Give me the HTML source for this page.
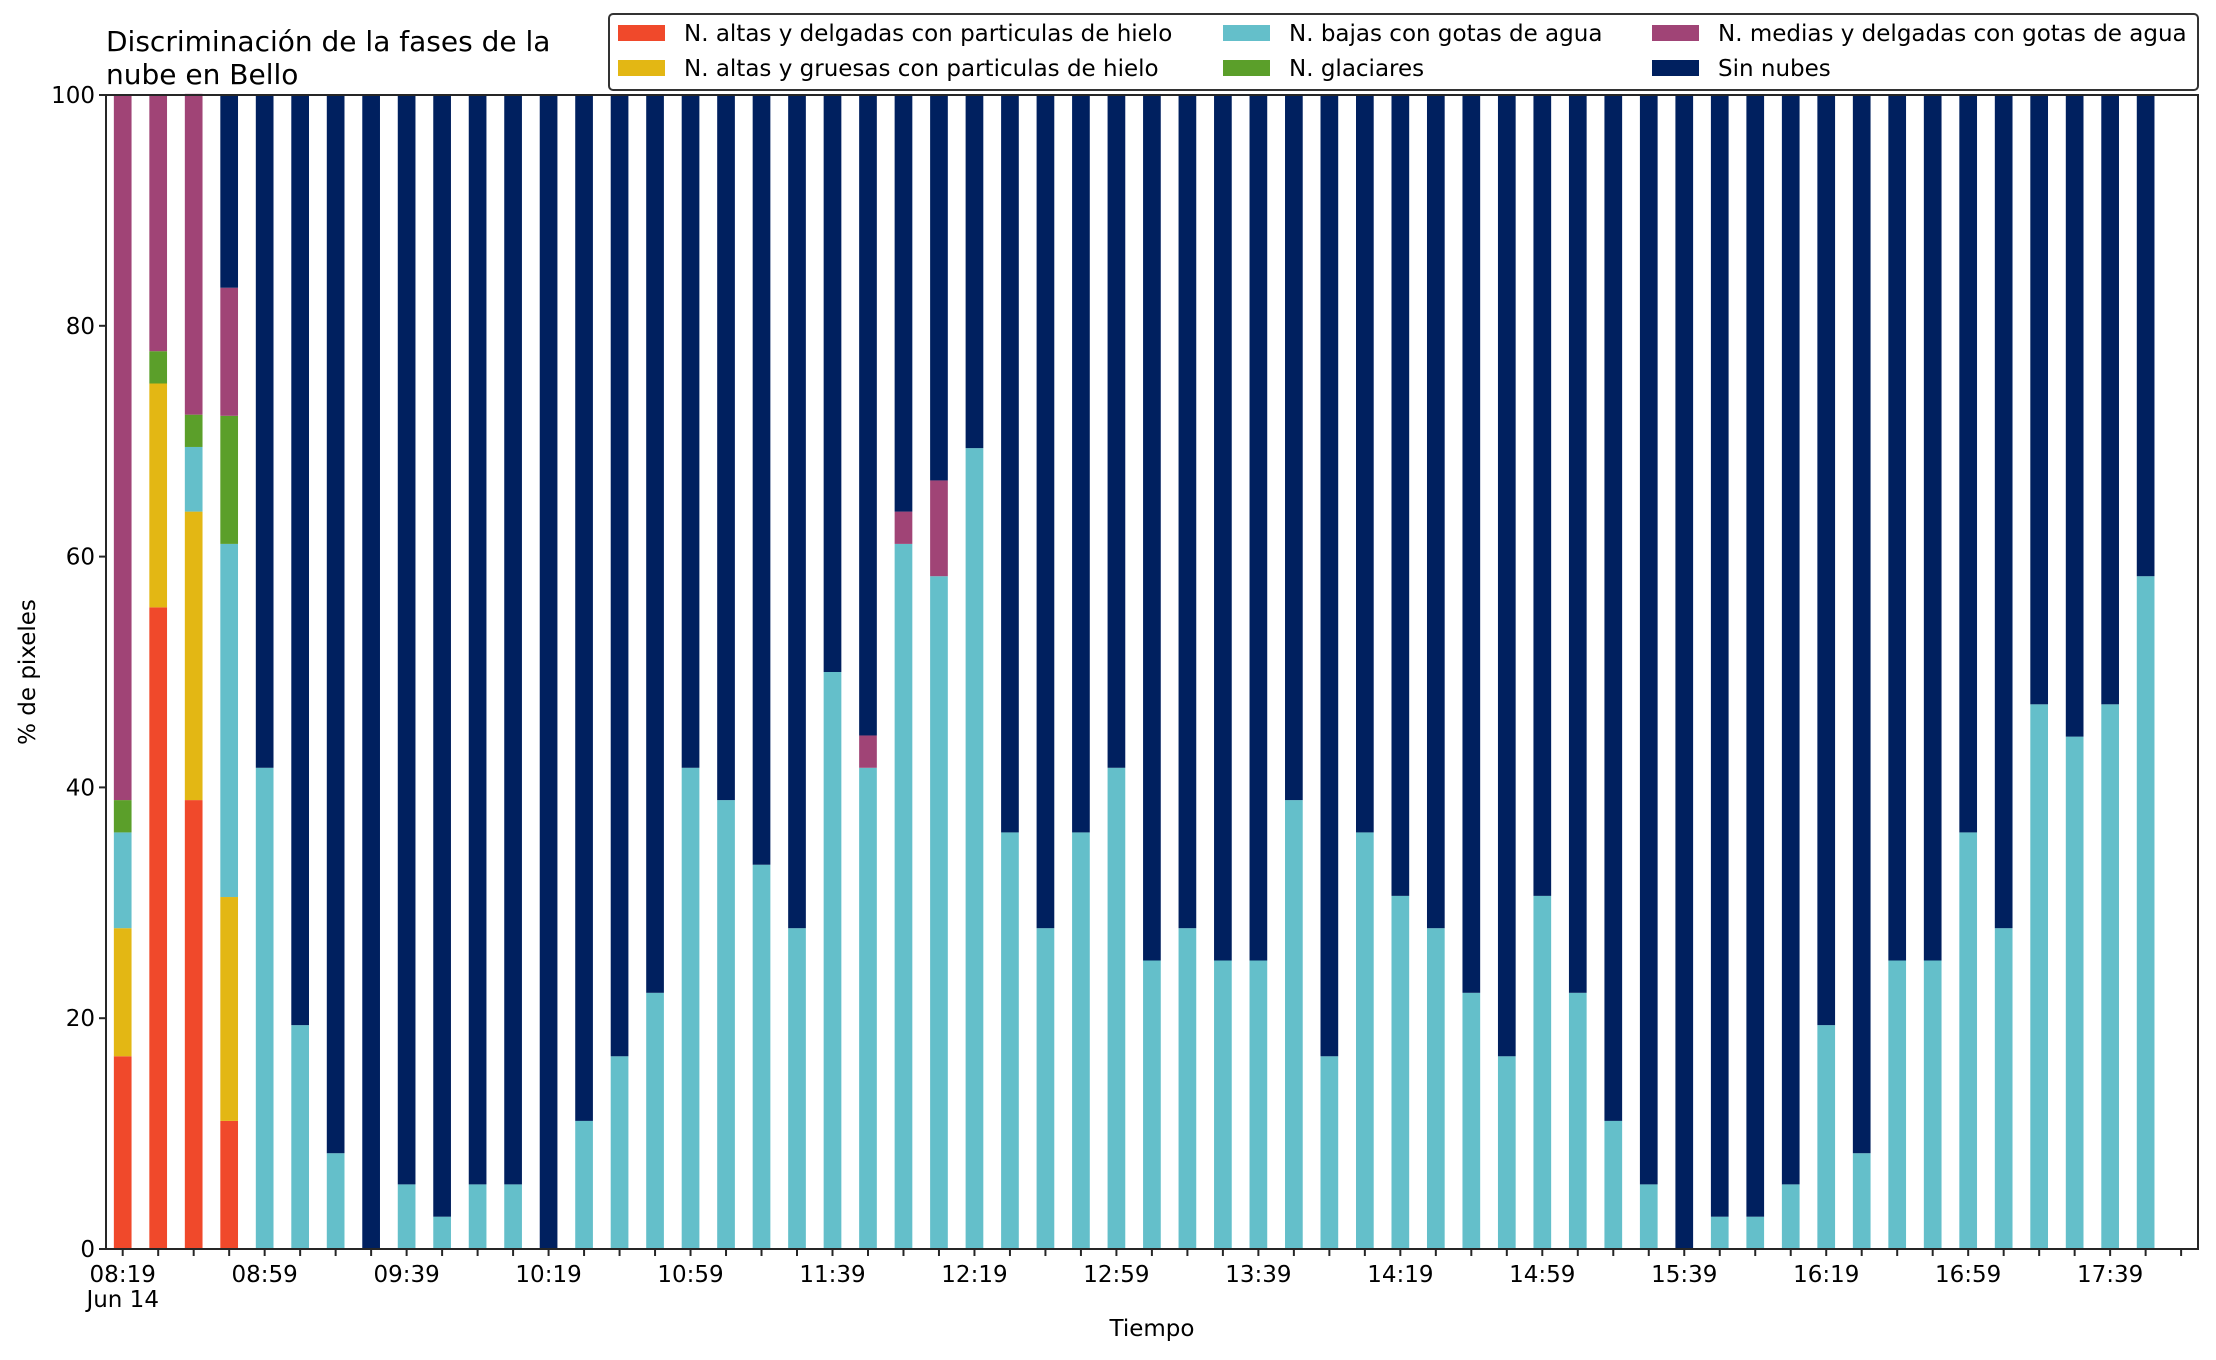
<!DOCTYPE html>
<html><head><meta charset="utf-8"><style>
body{margin:0;background:#fff;}
svg text{font-family:"DejaVu Sans","Liberation Sans",sans-serif;fill:#000;}
</style></head><body>
<svg id="chart" width="2216" height="1355" xmlns="http://www.w3.org/2000/svg">
<rect width="2216" height="1355" fill="#fff"/>
<text x="106" y="51" font-size="28">Discriminación de la fases de la</text>
<text x="106" y="84" font-size="28">nube en Bello</text>
<g id="bars"></g>
<g id="axes"></g>
<text transform="translate(35,672) rotate(-90)" text-anchor="middle" font-size="23">% de pixeles</text>
<text x="1152" y="1336" text-anchor="middle" font-size="23">Tiempo</text>
<g id="legend"></g>
</svg>
<script>
const categories = ["08:19","08:29","08:39","08:49","08:59","09:09","09:19","09:29","09:39","09:49","09:59","10:09","10:19","10:29","10:39","10:49","10:59","11:09","11:19","11:29","11:39","11:49","11:59","12:09","12:19","12:29","12:39","12:49","12:59","13:09","13:19","13:29","13:39","13:49","13:59","14:09","14:19","14:29","14:39","14:49","14:59","15:09","15:19","15:29","15:39","15:49","15:59","16:09","16:19","16:29","16:39","16:49","16:59","17:09","17:19","17:29","17:39","17:49"];
const altasDelgadas = [16.7,55.6,38.9,11.1];
const altasGruesas = [11.1,19.4,25.0,19.4];
const bajasAgua = [8.3,0,5.6,30.6,41.7,19.4,8.3,0,5.6,2.8,5.6,5.6,0,11.1,16.7,22.2,41.7,38.9,33.3,27.8,50,41.7,61.1,58.3,69.4,36.1,27.8,36.1,41.7,25,27.8,25,25,38.9,16.7,36.1,30.6,27.8,22.2,16.7,30.6,22.2,11.1,5.6,0,2.8,2.8,5.6,19.4,8.3,25,25,36.1,27.8,47.2,44.4,47.2,58.3];
const glaciares = [2.8,2.8,2.8,11.1];
const mediasAgua = [61.1,22.2,27.8,11.1,0,0,0,0,0,0,0,0,0,0,0,0,0,0,0,0,0,2.8,2.8,8.3];
const yTicks = [0,20,40,60,80,100];
const xTickLabels = ["08:19","08:59","09:39","10:19","10:59","11:39","12:19","12:59","13:39","14:19","14:59","15:39","16:19","16:59","17:39"];

const NS="http://www.w3.org/2000/svg";
const L=106,R=2198,T=95,B=1249;
const x0=122.7, step=35.49, bw=17.7;
const xs=i=>x0+i*step;
const ys=v=>B-(v/100)*(B-T);
const series=[
 {name:"N. altas y delgadas con particulas de hielo",data:altasDelgadas,color:"#f0492b",key:"altas-delgadas"},
 {name:"N. altas y gruesas con particulas de hielo",data:altasGruesas,color:"#e3b714",key:"altas-gruesas"},
 {name:"N. bajas con gotas de agua",data:bajasAgua,color:"#64bfca",key:"bajas-agua"},
 {name:"N. glaciares",data:glaciares,color:"#5b9f2a",key:"glaciares"},
 {name:"N. medias y delgadas con gotas de agua",data:mediasAgua,color:"#a04476",key:"medias-agua"},
 {name:"Sin nubes",data:null,color:"#00205f",key:"sin-nubes"}
];
function mk(tag,attrs,parent){const e=document.createElementNS(NS,tag);for(const k in attrs)e.setAttribute(k,attrs[k]);parent.appendChild(e);return e;}
const gb=document.getElementById('bars');
categories.forEach((c,i)=>{
  let acc=0;
  series.forEach(s=>{
    let v = s.data ? (s.data[i]||0) : Math.max(0,100-acc);
    if(v<=0) return;
    const r=mk('rect',{x:xs(i)-bw/2,y:ys(acc+v),width:bw,height:ys(acc)-ys(acc+v),fill:s.color},gb);
    
    
    acc+=v;
  });
});
const ga=document.getElementById('axes');
const frame=mk('rect',{x:L,y:T,width:R-L,height:B-T,fill:'none',stroke:'#262626','stroke-width':2},ga);


yTicks.forEach(v=>{
  mk('line',{x1:L-7,x2:L,y1:ys(v),y2:ys(v),stroke:'#262626','stroke-width':2},ga);
  const t=mk('text',{x:L-11,y:ys(v)+8,'text-anchor':'end','font-size':23},ga);
  t.textContent=v;
  
  
});
for(let i=0;i<=58;i++){
  mk('line',{x1:xs(i),x2:xs(i),y1:B,y2:B+7,stroke:'#262626','stroke-width':2},ga);
}
xTickLabels.forEach((lab,k)=>{
  const i=categories.indexOf(lab);
  const t=mk('text',{x:xs(i),y:1282,'text-anchor':'middle','font-size':23},ga);
  t.textContent=lab;
  
  
});
const jt=mk('text',{x:xs(0),y:1307,'text-anchor':'middle','font-size':23},ga);
jt.textContent='Jun 14';


const gl=document.getElementById('legend');
mk('rect',{x:609,y:14,width:1589,height:76,rx:4,fill:'#fff',stroke:'#333','stroke-width':2},gl);
const cols=[618,1223,1652], rows=[25,60];
const order=[0,1,2,3,4,5];
order.forEach((si,k)=>{
  const s=series[si];const cx=cols[Math.floor(k/2)], ry=rows[k%2];
  const p=mk('rect',{x:cx,y:ry,width:47,height:16,fill:s.color},gl);
  
  
  const t=mk('text',{x:cx+66,y:ry+16,'font-size':23},gl);
  t.textContent=s.name;
  
  
});
</script>
</body></html>
